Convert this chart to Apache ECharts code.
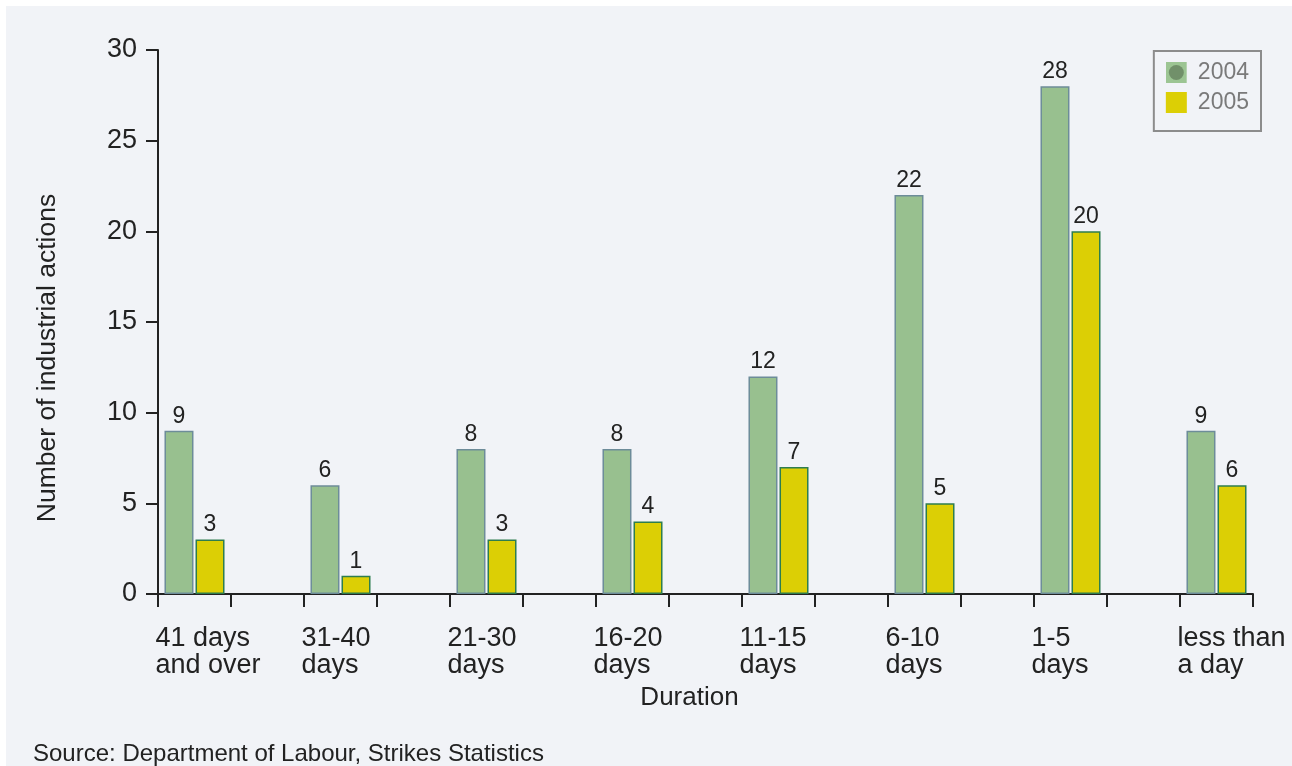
<!DOCTYPE html>
<html>
<head>
<meta charset="utf-8">
<script src="https://cdn.jsdelivr.net/npm/echarts@6/dist/echarts.min.js"></script>
<style>
html,body{margin:0;padding:0;background:#ffffff;width:1292px;height:766px;overflow:hidden;}
#main{position:absolute;left:6px;top:6px;width:1286px;height:760px;}
</style>
</head>
<body>
<div id="main"></div>
<script>
// ---- data ----
const categories = ['41 days\nand over', '31-40\ndays', '21-30\ndays', '16-20\ndays', '11-15\ndays', '6-10\ndays', '1-5\ndays', 'less than\na day'];
const values2004 = [9, 6, 8, 8, 12, 22, 28, 9];
const values2005 = [3, 1, 3, 4, 7, 5, 20, 6];
const seriesNames = ['2004', '2005'];
const yTicks = [0, 5, 10, 15, 20, 25, 30];

// build slot axis: each category followed by an empty gap slot
const slots = [], s2004 = [], s2005 = [];
categories.forEach((c, i) => {
  slots.push(c); s2004.push(values2004[i]); s2005.push(values2005[i]);
  if (i < categories.length - 1) { slots.push(''); s2004.push('-'); s2005.push('-'); }
});

const FONT = "'Liberation Sans', Arial, Helvetica, sans-serif";
const legendIcon2004 = 'image://data:image/svg+xml;utf8,' + encodeURIComponent(
  '<svg xmlns="http://www.w3.org/2000/svg" width="21" height="21"><rect width="21" height="21" fill="#9cc593"/><circle cx="10.5" cy="10.5" r="7.5" fill="#71906a"/></svg>');

const chart = echarts.init(document.getElementById('main'));
chart.setOption({
  backgroundColor: '#f1f3f7',
  animation: false,
  textStyle: { fontFamily: FONT },
  title: {
    text: 'Source: Department of Labour, Strikes Statistics',
    left: 27, top: 736,
    padding: 0,
    textStyle: { fontFamily: FONT, fontSize: 24, fontWeight: 'normal', color: '#222' }
  },
  legend: {
    right: 31, top: 45,
    orient: 'vertical',
    itemWidth: 21, itemHeight: 21, itemGap: 7,
    padding: [10, 12, 17, 12],
    borderColor: '#8c8c8c', borderWidth: 2,
    itemStyle: { borderWidth: 0 },
    textStyle: { fontFamily: FONT, fontSize: 23, color: '#7a7a7a', padding: [0, 0, 0, 6] },
    data: [
      { name: seriesNames[0], icon: legendIcon2004 },
      { name: seriesNames[1], icon: 'rect' }
    ]
  },
  grid: { left: 152, right: 39, top: 44, bottom: 172, containLabel: false },
  xAxis: {
    type: 'category',
    data: slots,
    boundaryGap: true,
    name: 'Duration',
    nameLocation: 'middle',
    nameGap: 91,
    nameTextStyle: { fontFamily: FONT, fontSize: 26, color: '#222', padding: [0, 32, 0, 0] },
    axisLine: { lineStyle: { color: '#222', width: 2 } },
    axisTick: { show: true, interval: 0, alignWithLabel: false, length: 13, lineStyle: { color: '#222', width: 2 } },
    axisLabel: {
      interval: 0,
      margin: 31,
      formatter: v => v ? v.split('\n').map(l => '{a|' + l + '}').join('\n') : '',
      rich: { a: { width: 78, align: 'left', fontFamily: FONT, fontSize: 27, lineHeight: 27, color: '#222' } }
    },
    splitLine: { show: false }
  },
  yAxis: {
    type: 'value',
    min: yTicks[0], max: yTicks[yTicks.length - 1], interval: 5,
    name: 'Number of industrial actions',
    nameLocation: 'middle',
    nameGap: 97,
    nameTextStyle: { fontFamily: FONT, fontSize: 26.5, color: '#222', padding: [0, 72, 0, 0] },
    axisLine: { show: true, lineStyle: { color: '#222', width: 2 } },
    axisTick: { show: true, length: 12, lineStyle: { color: '#222', width: 2 } },
    axisLabel: { margin: 21, fontFamily: FONT, fontSize: 27, color: '#222' },
    splitLine: { show: false }
  },
  series: [
    {
      name: seriesNames[0], type: 'bar', data: s2004,
      barWidth: 29, barGap: '7%',
      itemStyle: { color: '#98c08f', borderColor: '#6d8c99', borderWidth: 1.5 },
      label: { show: true, position: 'top', distance: 3, fontFamily: FONT, fontSize: 23, color: '#222' }
    },
    {
      name: seriesNames[1], type: 'bar', data: s2005,
      barWidth: 29,
      itemStyle: { color: '#dccf05', borderColor: '#2e7d4f', borderWidth: 1.5 },
      label: { show: true, position: 'top', distance: 3, fontFamily: FONT, fontSize: 23, color: '#222' }
    }
  ]
});
</script>
</body>
</html>
